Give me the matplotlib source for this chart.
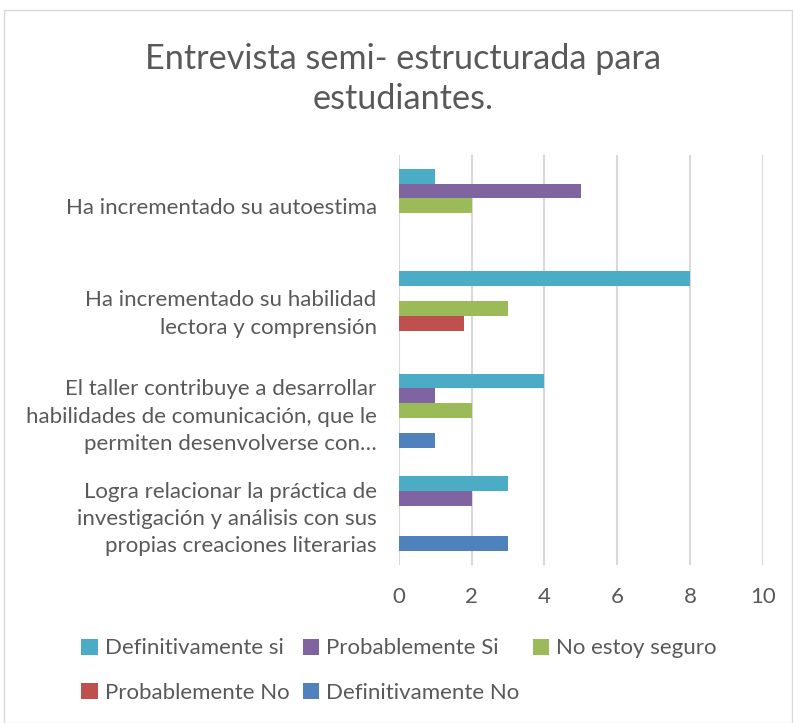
import matplotlib.pyplot as plt
import numpy as np
from matplotlib.patches import Rectangle

plt.rcParams["font.family"] = ["Lato", "DejaVu Sans"]

# categories listed bottom to top
categories = [
    "Logra relacionar la práctica de\ninvestigación y análisis con sus\npropias creaciones literarias",
    "El taller contribuye a desarrollar\nhabilidades de comunicación, que le\npermiten desenvolverse con…",
    "Ha incrementado su habilidad\nlectora y comprensión",
    "Ha incrementado su autoestima",
]
series_names = ["Definitivamente si", "Probablemente Si", "No estoy seguro",
                "Probablemente No", "Definitivamente No"]
definitivamente_si = [3, 4, 8, 1]
probablemente_si = [2, 1, 0, 5]
no_estoy_seguro = [0, 2, 3, 2]
probablemente_no = [0, 0, 1.8, 0]
definitivamente_no = [3, 1, 0, 0]
x_ticks = [0, 2, 4, 6, 8, 10]

colors = ["#4BACC6", "#8064A2", "#9BBB59", "#C0504D", "#4F81BD"]
text_col = "#595959"

fig = plt.figure(figsize=(7.93, 7.23), dpi=100)
ax = fig.add_axes([0.503, 0.219, 0.459, 0.567])

# outer chart border
fig.patches.append(Rectangle((0.005, 0.0), 0.994, 0.986, transform=fig.transFigure,
                             fill=False, edgecolor="#d9d9d9", linewidth=1.0))

all_series = [definitivamente_si, probablemente_si, no_estoy_seguro,
              probablemente_no, definitivamente_no]
y = np.arange(len(categories))
h = 0.146
handles = []
for i, vals in enumerate(all_series):
    off = (2 - i) * h
    b = ax.barh(y + off, vals, height=h, color=colors[i], label=series_names[i], zorder=3)
    handles.append(b)

ax.set_xlim(0, 10)
ax.set_ylim(-0.5, 3.5)
ax.set_xticks(x_ticks)
ax.set_yticks(y)
ax.set_yticklabels(categories, fontsize=16, color=text_col, linespacing=1.46)
ax.tick_params(axis="x", labelsize=16, labelcolor=text_col, length=0, pad=16)
ax.tick_params(axis="y", length=0, pad=16)
ax.grid(axis="x", color="#d9d9d9", linewidth=1.5, zorder=0)
for s in ax.spines.values():
    s.set_visible(False)

fig.text(0.508, 0.891, "Entrevista semi- estructurada para\nestudiantes.", ha="center", va="center",
         fontsize=24.7, color=text_col, linespacing=1.33)

order = [0, 3, 1, 4, 2]
leg = fig.legend([handles[k] for k in order], [series_names[k] for k in order],
                 loc="center", bbox_to_anchor=(0.503, 0.0726), ncol=3, frameon=False,
                 fontsize=16, labelcolor=text_col, handlelength=0.75, handleheight=0.75,
                 handletextpad=0.3, columnspacing=0.6, labelspacing=1.09)

fig.savefig("out.png", dpi=100)
